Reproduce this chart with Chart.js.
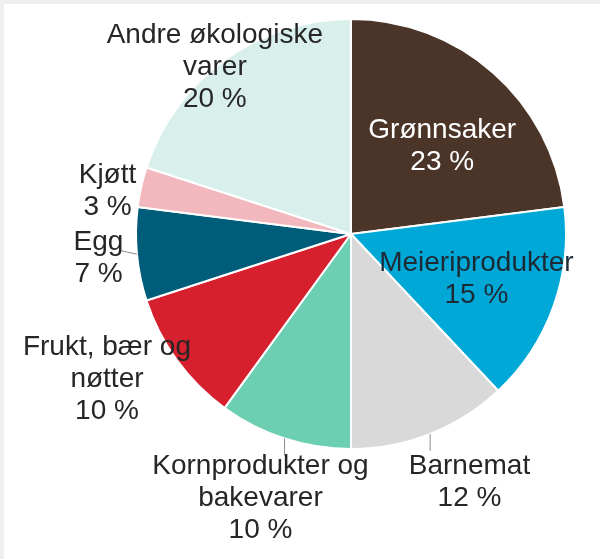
<!DOCTYPE html>
<html>
<head>
<meta charset="utf-8">
<script src="https://cdn.jsdelivr.net/npm/chart.js@4/dist/chart.umd.min.js"></script>
<style>
  body { margin: 0; background: #fff; }
  canvas { display: block; }
</style>
</head>
<body>
<canvas id="chartOko" width="600" height="559"></canvas>
<script>
// Andel økologisk omsetning etter varegruppe
const kategorier = ['Grønnsaker', 'Meieriprodukter', 'Barnemat', 'Kornprodukter og bakevarer',
    'Frukt, bær og nøtter', 'Egg', 'Kjøtt', 'Andre økologiske varer'];
const andeler = [23, 15, 12, 10, 10, 7, 3, 20];
const farger = ['#4b3528', '#00a8d7', '#d9d9d9', '#6dcfb1', '#d6202d', '#005d7a', '#f2b8bd', '#d8efeb'];

// tekstlinjer per etikett (prosent legges til under)
const etikettLinjer = [['Grønnsaker'], ['Meieriprodukter'], ['Barnemat'], ['Kornprodukter og', 'bakevarer'],
    ['Frukt, bær og', 'nøtter'], ['Egg'], ['Kjøtt'], ['Andre økologiske', 'varer']];
const etikettFarge = ['#ffffff', '#1c2a36', '#262626', '#262626', '#262626', '#262626', '#262626', '#262626'];

// plassering av etiketter: radius (andel av pie-radius) og vinkeljustering i grader
const etikettRadius = [0.59, 0.62, 1.28, 1.30, 1.32, 1.18, 1.15, 1.0];
const etikettVri = [4.6, 0, -3.9, 0.9, 5.3, -0.2, -2.6, -3.3];
// hjelpelinjer fra kanten av sektoren [dx, dy]
const hjelpelinje = [null, null, [0, 17], [0, 17], null, [-18, -4], null, null];

const bakgrunn = {
    id: 'bakgrunn',
    beforeDraw(chart) {
        const c = chart.ctx;
        c.save();
        c.fillStyle = '#efefef';
        c.fillRect(0, 0, chart.width, 4);
        c.fillRect(0, 0, 4, chart.height);
        c.restore();
    }
};

const etiketter = {
    id: 'etiketter',
    afterDatasetsDraw(chart) {
        const c = chart.ctx;
        const meta = chart.getDatasetMeta(0);
        c.save();
        meta.data.forEach(function(arc, i) {
            const p = arc.getProps(['x', 'y', 'startAngle', 'endAngle', 'outerRadius'], true);
            const midt = (p.startAngle + p.endAngle) / 2;

            // hjelpelinje
            if (hjelpelinje[i]) {
                const x0 = p.x + Math.cos(midt) * p.outerRadius;
                const y0 = p.y + Math.sin(midt) * p.outerRadius;
                c.strokeStyle = '#8c8c8c';
                c.lineWidth = 1;
                c.beginPath();
                c.moveTo(x0, y0);
                c.lineTo(x0 + hjelpelinje[i][0], y0 + hjelpelinje[i][1]);
                c.stroke();
            }

            const v = midt + etikettVri[i] * Math.PI / 180;
            const tx = p.x + Math.cos(v) * p.outerRadius * etikettRadius[i];
            const ty = p.y + Math.sin(v) * p.outerRadius * etikettRadius[i];
            const linjer = etikettLinjer[i].concat([andeler[i] + ' %']);
            const linjeHoyde = 32;
            c.font = '28px "Liberation Sans", Arial, sans-serif';
            c.fillStyle = etikettFarge[i];
            c.textAlign = 'center';
            c.textBaseline = 'middle';
            linjer.forEach(function(l, j) {
                c.fillText(l, tx, ty + (j - (linjer.length - 1) / 2) * linjeHoyde);
            });
        });
        c.restore();
    }
};

const ctx = document.getElementById('chartOko').getContext('2d');
const chartOko = new Chart(ctx, {
    type: 'pie',
    data: {
        labels: kategorier,
        datasets: [{
            data: andeler,
            backgroundColor: farger,
            borderColor: '#ffffff',
            borderWidth: 2
        }]
    },
    options: {
        responsive: false,
        animation: false,
        layout: { padding: { left: 135, right: 33, top: 18, bottom: 109 } },
        plugins: {
            legend: { display: false },
            tooltip: { enabled: false }
        }
    },
    plugins: [bakgrunn, etiketter]
});
</script>
</body>
</html>
